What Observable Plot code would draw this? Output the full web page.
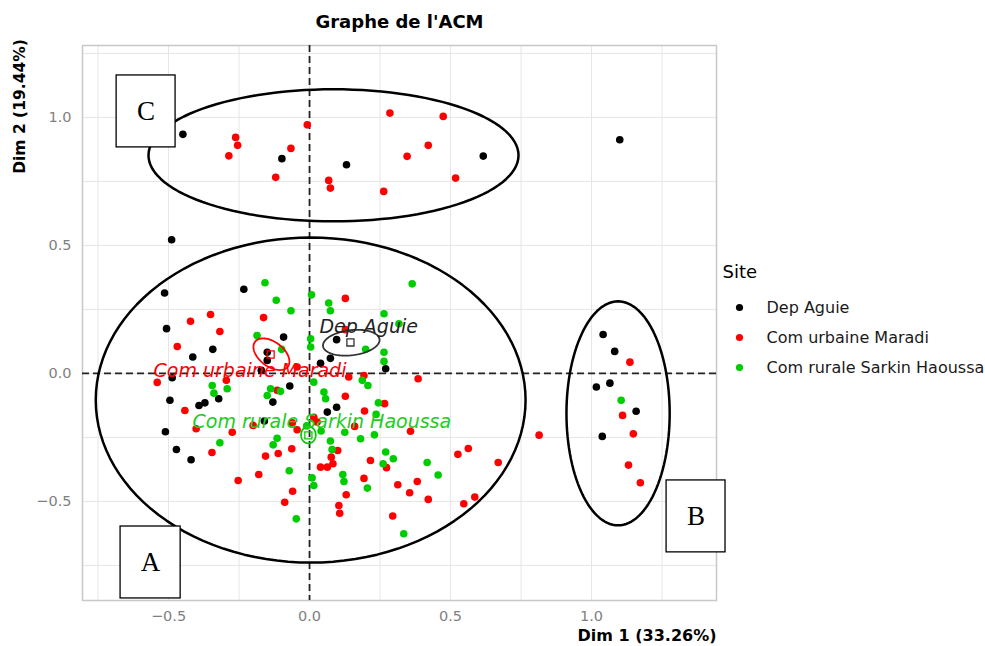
<!DOCTYPE html>
<html><head><meta charset="utf-8">
<script src="https://cdn.jsdelivr.net/npm/d3@7"></script>
<script src="https://cdn.jsdelivr.net/npm/@observablehq/plot@0.6"></script>
<style>body{margin:0;background:#fff}</style>
</head><body><div id="chart"></div>
<script>
const sites = ["Dep Aguie", "Com urbaine Maradi", "Com rurale Sarkin Haoussa"];
const siteColors = ["#000000", "#ff0000", "#00cd00"];

const depAguie = [[-0.449,0.934],[-0.098,0.839],[0.131,0.815],[0.616,0.849],[1.100,0.913],[-0.489,0.522],[-0.514,0.314],[-0.233,0.329],[-0.507,0.175],[-0.092,0.142],[-0.343,0.094],[-0.414,0.064],[-0.150,0.083],[-0.150,0.051],[0.096,0.132],[0.074,0.059],[0.039,0.040],[0.270,0.018],[-0.171,0.012],[-0.487,-0.017],[-0.070,-0.049],[-0.495,-0.105],[-0.392,-0.125],[-0.371,-0.115],[-0.322,-0.099],[-0.130,-0.112],[0.063,-0.151],[0.096,-0.132],[1.041,0.152],[1.082,0.086],[1.017,-0.053],[1.065,-0.038],[1.158,-0.148],[1.038,-0.246],[-0.511,-0.228],[-0.472,-0.297],[-0.420,-0.337],[-0.160,-0.186]];

const comMaradi = [[-0.262,0.922],[-0.255,0.891],[-0.286,0.850],[-0.066,0.879],[-0.120,0.766],[-0.008,0.971],[0.068,0.754],[0.074,0.724],[0.285,1.017],[0.346,0.848],[0.263,0.711],[0.474,1.004],[0.421,0.891],[0.518,0.763],[0.127,0.293],[-0.351,0.230],[-0.422,0.204],[-0.163,0.218],[-0.318,0.164],[-0.469,0.105],[0.127,0.171],[-0.044,0.025],[-0.540,-0.035],[-0.295,-0.027],[-0.115,-0.066],[-0.442,-0.145],[0.127,-0.089],[0.193,-0.008],[0.139,-0.014],[0.195,-0.147],[0.266,-0.118],[0.385,-0.021],[0.358,-0.226],[0.526,-0.316],[0.563,-0.293],[0.669,-0.348],[0.273,-0.368],[0.313,-0.435],[0.382,-0.422],[0.355,-0.466],[0.421,-0.492],[0.547,-0.509],[0.586,-0.483],[0.295,-0.557],[0.015,-0.171],[0.027,-0.190],[0.160,-0.207],[0.100,-0.301],[0.077,-0.327],[0.039,-0.366],[0.063,-0.366],[0.083,-0.353],[0.216,-0.340],[0.193,-0.410],[0.130,-0.474],[0.104,-0.516],[0.107,-0.546],[-0.402,-0.216],[-0.274,-0.230],[-0.346,-0.309],[-0.200,-0.203],[-0.061,-0.193],[-0.044,-0.220],[-0.156,-0.323],[-0.111,-0.313],[-0.063,-0.294],[-0.253,-0.418],[-0.180,-0.395],[-0.060,-0.460],[-0.088,-0.503],[1.136,0.044],[1.110,-0.164],[1.148,-0.236],[1.131,-0.358],[1.173,-0.427],[0.814,-0.241]];

const comSarkin = [[-0.158,0.354],[-0.118,0.286],[-0.066,0.245],[0.007,0.307],[0.068,0.275],[0.074,0.245],[0.264,0.233],[0.364,0.350],[-0.186,0.148],[-0.099,0.094],[0.004,0.135],[0.004,0.103],[0.199,0.094],[0.264,0.083],[0.264,0.047],[0.317,0.194],[-0.345,-0.047],[-0.292,-0.060],[-0.339,-0.077],[-0.138,-0.060],[-0.103,-0.070],[-0.150,-0.086],[0.015,-0.034],[0.051,-0.073],[0.057,-0.099],[0.187,-0.027],[0.207,-0.047],[0.244,-0.115],[0.236,-0.160],[1.105,-0.105],[0.270,-0.307],[0.261,-0.353],[0.297,-0.333],[0.417,-0.348],[0.456,-0.397],[0.334,-0.626],[0.041,-0.225],[0.125,-0.230],[0.181,-0.255],[0.230,-0.240],[0.074,-0.264],[0.080,-0.297],[0.009,-0.408],[0.015,-0.438],[0.118,-0.395],[0.122,-0.422],[0.205,-0.448],[-0.318,-0.271],[-0.115,-0.253],[-0.129,-0.279],[-0.072,-0.380],[-0.047,-0.568],[-0.010,-0.205]];

// group barycentres (mean points) and their label anchors
const siteMeans = [[0.145,0.121],[-0.138,0.074],[-0.004,-0.242]];
const labelPos = [[0.035,0.180],[-0.553,0.008],[-0.415,-0.188]];
// small confidence ellipses around means: [cx, cy, rx, ry, angleDeg]
const meanEllipses = [[0.148,0.120,0.101,0.049,8],[-0.135,0.075,0.076,0.046,-43],[-0.004,-0.240,0.026,0.033,0]];
// large annotation ellipses: [cx, cy, rx, ry]
const groupEllipses = [[0.085,0.852,0.656,0.258],[0.004,-0.104,0.762,0.635],[1.094,-0.156,0.183,0.4375]];
// annotation boxes: letter, x1, x2, y1, y2
const boxLetters = ["C","A","B"];
const boxX1 = [-0.684,-0.670,1.266];
const boxX2 = [-0.475,-0.457,1.475];
const boxY1 = [0.883,-0.879,-0.699];
const boxY2 = [1.164,-0.598,-0.418];

const xTicks = [-0.5, 0, 0.5, 1.0];
const yTicks = [-0.5, 0, 0.5, 1.0];
const xGrid = [-0.75,-0.5,-0.25,0,0.25,0.5,0.75,1.0,1.25];
const yGrid = [-0.75,-0.5,-0.25,0,0.25,0.5,0.75,1.0,1.25];

const points = [
  ...depAguie.map(([x,y]) => ({x,y,site:sites[0]})),
  ...comMaradi.map(([x,y]) => ({x,y,site:sites[1]})),
  ...comSarkin.map(([x,y]) => ({x,y,site:sites[2]}))
];

function ellipsePts(cx, cy, rx, ry, angDeg, id) {
  const a = angDeg * Math.PI / 180, out = [];
  for (let i = 0; i <= 120; i++) {
    const t = 2 * Math.PI * i / 120;
    const ex = rx * Math.cos(t), ey = ry * Math.sin(t);
    out.push({x: cx + ex*Math.cos(a) - ey*Math.sin(a), y: cy + ex*Math.sin(a) + ey*Math.cos(a), id});
  }
  return out;
}
const bigE = groupEllipses.flatMap((e,i) => ellipsePts(e[0],e[1],e[2],e[3],0,i));
const smallE = meanEllipses.map((e,i) => ellipsePts(e[0],e[1],e[2],e[3],e[4],i));
const boxes = boxLetters.map((l,i) => ({l, x1:boxX1[i], x2:boxX2[i], y1:boxY1[i], y2:boxY2[i]}));
const fmt = d3.format(".1f");
const meanStroke = ["#333333", "#ff0000", "#00cd00"];
const labelFill = ["#222222", "#ff0000", "#22cc22"];

const marks = [
  Plot.gridX(xGrid, {stroke:"#e6e6e6", strokeOpacity:1, strokeWidth:1}),
  Plot.gridY(yGrid, {stroke:"#e6e6e6", strokeOpacity:1, strokeWidth:1}),
  Plot.frame({stroke:"#c8c8c8", strokeWidth:1.5}),
  Plot.ruleX([0], {stroke:"#222", strokeWidth:1.8, strokeDasharray:"7,4"}),
  Plot.ruleY([0], {stroke:"#222", strokeWidth:1.8, strokeDasharray:"7,4"}),
  Plot.dot(points, {x:"x", y:"y", fill:"site", r:3.8}),
  Plot.line(bigE, {x:"x", y:"y", z:"id", stroke:"#000", strokeWidth:2.5}),
  ...smallE.map((e,i) => Plot.line(e, {x:"x", y:"y", stroke:meanStroke[i], strokeWidth:1.8})),
  ...siteMeans.map((m,i) => Plot.dot([m], {x:d=>d[0], y:d=>d[1], symbol:"square", r:4, stroke:meanStroke[i], fill:"none", strokeWidth:1.3})),
  ...labelPos.map((p,i) => Plot.text([sites[i]], {x:()=>p[0], y:()=>p[1], textAnchor:"start", lineAnchor:"middle", fontSize:19, fontStyle:"italic", fill:labelFill[i]})),
  Plot.rect(boxes, {x1:"x1", x2:"x2", y1:"y1", y2:"y2", fill:"white", stroke:"#000", strokeWidth:1.3}),
  Plot.text(boxes, {x:d=>(d.x1+d.x2)/2, y:d=>(d.y1+d.y2)/2, text:"l", fontFamily:"Liberation Serif", fontSize:27, fill:"#000", lineAnchor:"middle"}),
  Plot.text(xTicks, {x:d=>d, frameAnchor:"bottom", dy:16, text:d=>fmt(d), fontSize:14.5, fill:"#7f7f7f", lineAnchor:"middle"}),
  Plot.text(yTicks, {y:d=>d, frameAnchor:"left", dx:-11, text:d=>fmt(d), fontSize:14.5, fill:"#7f7f7f", textAnchor:"end", lineAnchor:"middle"}),
  Plot.text(["Graphe de l'ACM"], {frameAnchor:"top", dy:-23, fontWeight:"bold", fontSize:18, fill:"#000", lineAnchor:"middle"}),
  Plot.text(["Dim 1 (33.26%)"], {frameAnchor:"bottom-right", dy:35, textAnchor:"end", fontWeight:"bold", fontSize:16, fill:"#000", lineAnchor:"middle"}),
  Plot.text(["Dim 2 (19.44%)"], {frameAnchor:"top-left", dx:-62, dy:61, rotate:-90, textAnchor:"middle", fontWeight:"bold", fontSize:15.5, fill:"#000", lineAnchor:"middle"}),
  Plot.text(["Site"], {frameAnchor:"top-left", dx:640, dy:227, textAnchor:"start", fontSize:18, fill:"#000", lineAnchor:"middle"}),
  ...sites.map((s,i) => Plot.dot([s], {frameAnchor:"top-left", dx:657, dy:262+30*i, r:3.6, fill:siteColors[i]})),
  ...sites.map((s,i) => Plot.text([s], {frameAnchor:"top-left", dx:684, dy:262+30*i, textAnchor:"start", fontSize:16, fill:"#1a1a1a", lineAnchor:"middle"}))
];

const chart = Plot.plot({
  width: 985, height: 646,
  marginLeft: 82, marginRight: 269, marginTop: 45, marginBottom: 46,
  style: {fontFamily: "DejaVu Sans", background: "#fff"},
  x: {domain: [-0.805, 1.443], axis: null},
  y: {domain: [-0.887, 1.281], axis: null},
  color: {domain: sites, range: siteColors},
  marks
});
document.getElementById("chart").appendChild(chart);
</script></body></html>
